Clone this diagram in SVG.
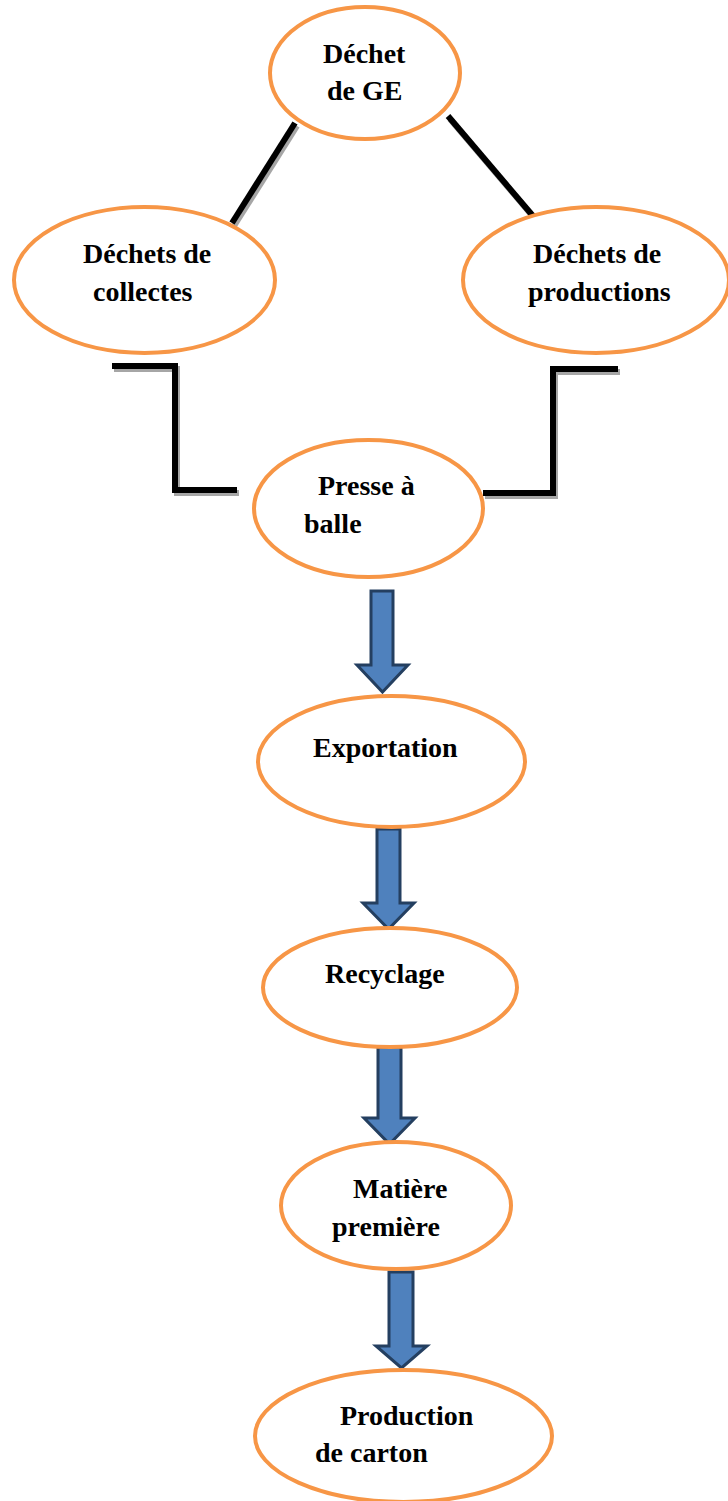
<svg xmlns="http://www.w3.org/2000/svg" width="728" height="1501" viewBox="0 0 728 1501">
<style>
.node ellipse{fill:#fff;stroke:#F79646;stroke-width:4}
.node text{font-family:"Liberation Serif","Times New Roman",serif;font-weight:bold;font-size:28px;fill:#000}
.ln{fill:none;stroke:#000;stroke-width:6;stroke-linecap:butt;stroke-linejoin:miter}
.sh{fill:none;stroke:#a6a6a6;stroke-width:6;stroke-linejoin:miter}
.arr{fill:#4F81BD;stroke:#243F60;stroke-width:3;stroke-linejoin:miter}
</style>
<rect width="728" height="1501" fill="#fff"/>
<g id="connectors">
<g transform="translate(2,3)">
<line class="sh" x1="295" y1="123" x2="232" y2="223"/>
<line class="sh" x1="448" y1="116" x2="533" y2="216"/>
<polyline class="sh" points="112,366 175,366 175,490 237,490"/>
<polyline class="sh" points="618,369 553,369 553,493 483,493"/>
</g>
<line class="ln" x1="295" y1="123" x2="232" y2="223"/>
<line class="ln" x1="448" y1="116" x2="533" y2="216"/>
<polyline class="ln" points="112,366 175,366 175,490 237,490"/>
<polyline class="ln" points="618,369 553,369 553,493 483,493"/>
<path class="arr" d="M371,591 H393 V665 H408 L382.5,692 L357,665 H371 Z"/>
<path class="arr" d="M377,829 H400 V903 H414 L388.5,929 L363,903 H377 Z"/>
<path class="arr" d="M378,1047 H401 V1118 H415 L389.5,1144 L364,1118 H378 Z"/>
<path class="arr" d="M389,1272 H413 V1346 H427 L401.5,1368 L376,1346 H389 Z"/>
</g>
<g id="n1" class="node"><ellipse cx="365" cy="73" rx="95" ry="66"/><text x="323" y="63">Déchet</text><text x="327" y="100">de GE</text></g>
<g id="n2" class="node"><ellipse cx="144.5" cy="280" rx="130.5" ry="73"/><text x="83" y="263">Déchets de</text><text x="93" y="301">collectes</text></g>
<g id="n3" class="node"><ellipse cx="596" cy="280" rx="133" ry="73"/><text x="533" y="263">Déchets de</text><text x="528" y="301">productions</text></g>
<g id="n4" class="node"><ellipse cx="368.5" cy="508.5" rx="114.5" ry="68.5"/><text x="318" y="495">Presse à</text><text x="304" y="533">balle</text></g>
<g id="n5" class="node"><ellipse cx="391.5" cy="761.5" rx="133.5" ry="65.5"/><text x="313" y="757">Exportation</text></g>
<g id="n6" class="node"><ellipse cx="390" cy="987.5" rx="127" ry="59.5"/><text x="325" y="983">Recyclage</text></g>
<g id="n7" class="node"><ellipse cx="396" cy="1205.5" rx="115" ry="63.5"/><text x="353" y="1198">Matière</text><text x="332" y="1236">première</text></g>
<g id="n8" class="node"><ellipse cx="403.5" cy="1436" rx="148.5" ry="66"/><text x="340" y="1425">Production</text><text x="315" y="1462">de carton</text></g>
</svg>
